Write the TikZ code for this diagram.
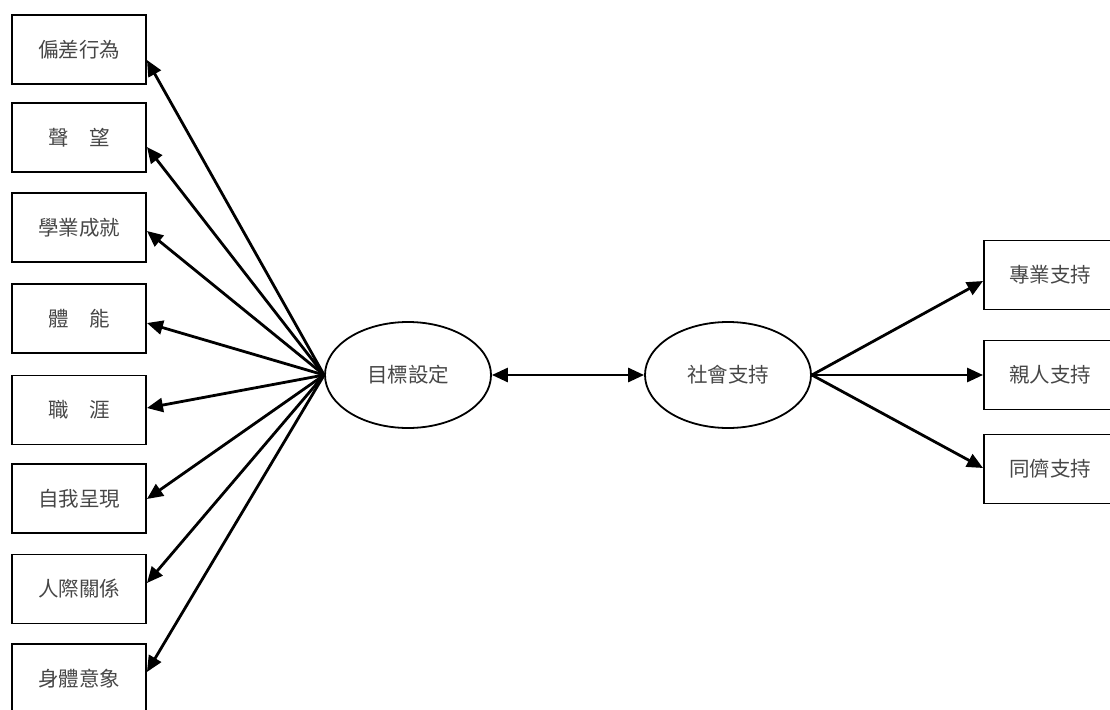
\documentclass[tikz,border=0pt]{standalone}
\usepackage{fontspec}
\setmainfont{Noto Sans CJK TC}
\usetikzlibrary{arrows.meta,shapes.geometric}
\begin{document}
\begin{tikzpicture}[x=1pt,y=-1pt,
  every node/.style={font=\fontsize{20.5}{22}\selectfont, text=black!72, inner sep=0pt},
  itembox/.style={draw=black, line width=1.9pt, minimum width=134pt, minimum height=69pt},
  factor/.style={ellipse, draw=black, line width=1.8pt, minimum width=166pt, minimum height=106pt},
  arr/.style={line width=2.8pt, -{Triangle[length=16pt,width=14pt]}},
  darr/.style={line width=2.8pt, {Triangle[length=16pt,width=14pt]}-{Triangle[length=16pt,width=14pt]}}]
\useasboundingbox (0,0) rectangle (1110,709);
\clip (0,0) rectangle (1110,709);

% left-hand indicator boxes
\node[itembox] (b1) at (79,49.5) {偏差行為};
\node[itembox] (b2) at (79,137.5) {聲　望};
\node[itembox] (b3) at (79,227.5) {學業成就};
\node[itembox] (b4) at (79,318.5) {體　能};
\node[itembox] (b5) at (79,410) {職　涯};
\node[itembox] (b6) at (79,498.5) {自我呈現};
\node[itembox] (b7) at (79,589) {人際關係};
\node[itembox] (b8) at (79,678.5) {身體意象};

% latent factors
\node[factor] (goal) at (408,375) {目標設定};
\node[factor] (soc) at (728,375) {社會支持};

% right-hand indicator boxes
\node[itembox, minimum width=132pt] (r1) at (1050,275) {專業支持};
\node[itembox, minimum width=132pt] (r2) at (1050,375) {親人支持};
\node[itembox, minimum width=132pt] (r3) at (1050,469) {同儕支持};

% paths from goal setting to its indicators
\draw[arr] (goal.west) -- ([yshift=-10.5pt]b1.east);
\draw[arr] (goal.west) -- ([yshift=-9.5pt]b2.east);
\draw[arr] (goal.west) -- ([yshift=-3.5pt]b3.east);
\draw[arr] (goal.west) -- ([yshift=-4.5pt]b4.east);
\draw[arr] (goal.west) -- ([yshift=2pt]b5.east);
\draw[arr] (goal.west) -- ([yshift=-0.5pt]b6.east);
\draw[arr] (goal.west) -- ([yshift=6pt]b7.east);
\draw[arr] (goal.west) -- ([yshift=6.5pt]b8.east);

% correlation between factors
\draw[darr] (goal.east) -- (soc.west);

% paths from social support to its indicators
\draw[arr] (soc.east) -- ([yshift=-6pt]r1.west);
\draw[arr] (soc.east) -- (r2.west);
\draw[arr] (soc.east) -- ([yshift=1pt]r3.west);
\end{tikzpicture}
\end{document}
